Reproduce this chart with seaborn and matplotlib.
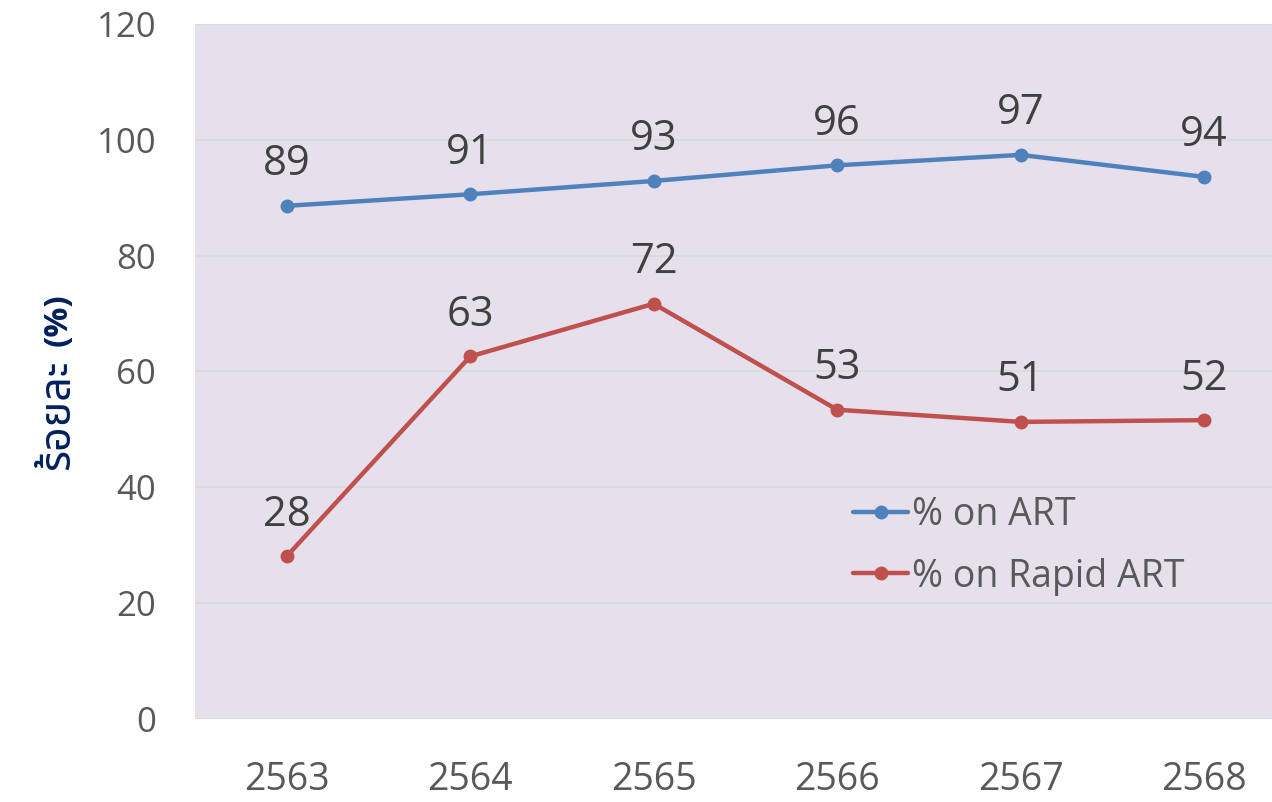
import matplotlib
matplotlib.use("Agg")
import matplotlib.pyplot as plt
import pandas as pd
import seaborn as sns

years = ["2563", "2564", "2565", "2566", "2567", "2568"]
on_art = [88.6, 90.6, 92.9, 95.6, 97.4, 93.6]
on_rapid_art = [28.1, 62.6, 71.7, 53.4, 51.3, 51.6]
series_names = ["% on ART", "% on Rapid ART"]
y_ticks = [0, 20, 40, 60, 80, 100, 120]

sns.set_style("white")
plt.rcParams["font.family"] = ["Open Sans", "Noto Sans Thai", "Bai Jamjuree", "DejaVu Sans"]

df = pd.DataFrame({"year": years, series_names[0]: on_art, series_names[1]: on_rapid_art})
data = df.melt("year", var_name="series", value_name="value")

fig = plt.figure(figsize=(12.72, 8.02), dpi=100)
ax = fig.add_axes([195 / 1272, 1 - 719 / 802, 1 - 195 / 1272, 695 / 802])
ax.set_facecolor("#E6E0EC")

colors = ["#4F81BD", "#C0504D"]
sns.lineplot(data=data, x="year", y="value", hue="series", palette=colors,
             marker="o", markersize=10, markeredgewidth=0, linewidth=3.2, ax=ax)

for vals in (on_art, on_rapid_art):
    for i, v in enumerate(vals):
        ax.annotate(f"{v:.0f}", (i, v), xytext=(0, 22), textcoords="offset points",
                    ha="center", va="baseline", fontsize=30, color="#404040")

ax.set_ylim(0, 120)
ax.set_yticks(y_ticks)
ax.set_xlim(-0.5, 5.37)
ax.grid(axis="y", color="#D9D9D9", linewidth=1.2)
ax.set_axisbelow(True)
for s in ax.spines.values():
    s.set_visible(False)
ax.tick_params(axis="y", labelsize=25, colors="#595959", pad=28, length=0)
ax.tick_params(axis="x", labelsize=27, colors="#595959", pad=30, length=0)
ax.set_xlabel("")
ax.set_ylabel("")

# y label: Thai word drawn larger than the "(%)" part, as in the original
ax.text(-0.127, 0.438, "ร้อยละ", rotation=90, transform=ax.transAxes, ha="center", va="center",
        fontsize=31, color="#002060", fontweight="bold",
        family=["Noto Sans Thai", "Bai Jamjuree", "DejaVu Sans"])
ax.text(-0.127, 0.574, "(%)", rotation=90, transform=ax.transAxes, ha="center", va="center",
        fontsize=24, color="#002060", fontweight="bold")

leg = ax.legend(loc="upper left", bbox_to_anchor=(0.58, 0.369), frameon=False,
                fontsize=27, handlelength=1.45, handletextpad=0.1, labelspacing=0.62)
for t in leg.get_texts():
    t.set_color("#595959")

fig.savefig("out.png", dpi=100)
